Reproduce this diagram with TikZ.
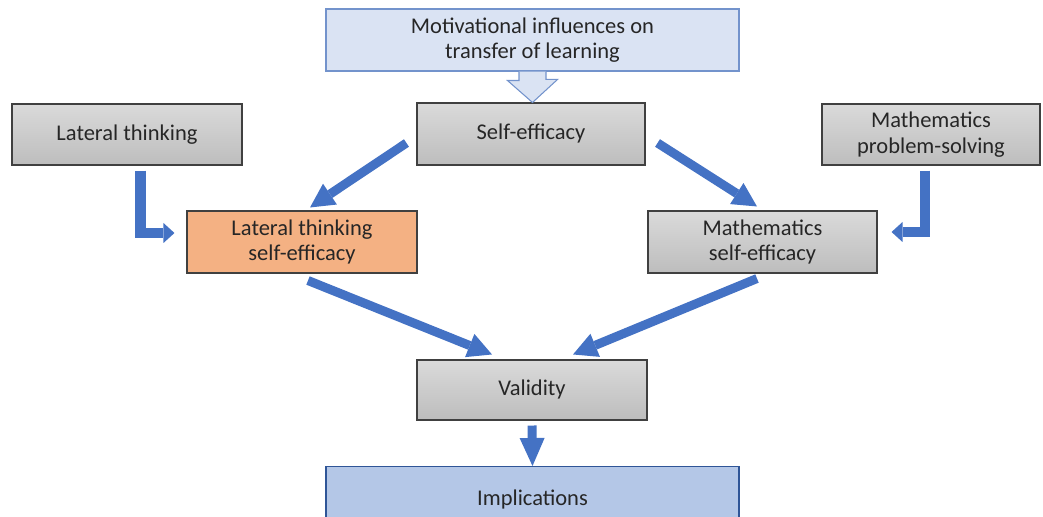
\documentclass[tikz,border=0pt]{standalone}
\usepackage{fontspec}
\setmainfont{Carlito}
\usetikzlibrary{arrows.meta,calc}

\definecolor{flowblue}{HTML}{4472C4}
\definecolor{graytop}{HTML}{DADADA}
\definecolor{graybot}{HTML}{BDBDBD}
\definecolor{boxline}{HTML}{404040}
\definecolor{paleblue}{HTML}{DAE3F3}
\definecolor{paleline}{HTML}{7393CC}
\definecolor{implblue}{HTML}{B4C7E7}
\definecolor{impline}{HTML}{2F5597}
\definecolor{orangebox}{HTML}{F4B183}

\begin{document}
\begin{tikzpicture}[
		box/.style={draw=boxline, line width=0.6pt, top color=graytop, bottom color=graybot,
			minimum width=4.6cm, minimum height=1.24cm, align=center, inner sep=2pt,
			font=\fontsize{12.8}{14.5}\selectfont, text=black!85},
		bluebox/.style={box, draw=paleline, fill=paleblue, top color=paleblue, bottom color=paleblue,
			minimum width=8.26cm},
		flow/.style={draw=flowblue, line width=0.18cm,
			-{Triangle[length=0.48cm,width=0.5cm,line width=0pt]}},
		bent/.style={draw=flowblue, line width=0.21cm, line join=miter,
			-{Triangle[length=0.22cm,width=0.4cm,line width=0pt]}}
	]
		\clip (0,0) rectangle (20.86,-10.34);

		% Top and bottom
		\node[bluebox] (mot) at (10.65,-0.80) {Motivational influences on\\transfer of learning};
		\node[bluebox, draw=impline, top color=implblue, bottom color=implblue, anchor=north,
			minimum height=1.3cm] (imp) at (10.65,-9.32) {Implications};

		% Boxes
		\node[box, minimum width=4.56cm] (se) at (10.62,-2.68) {Self-efficacy};
		\node[box, minimum height=1.22cm] (lt) at (2.54,-2.69) {Lateral thinking};
		\node[box, minimum width=4.36cm, minimum height=1.22cm] (mps) at (18.62,-2.69) {Mathematics\\problem-solving};
		\node[box, top color=orangebox, bottom color=orangebox] (ltse) at (6.04,-4.84) {Lateral thinking\\self-efficacy};
		\node[box, minimum width=4.58cm] (mse) at (15.25,-4.84) {Mathematics\\self-efficacy};
		\node[box, minimum height=1.2cm] (val) at (10.64,-7.80) {Validity};

		% Hollow arrow
		\coordinate (tip) at (mot.south |- se.north);
		\draw[paleline, fill=paleblue, line width=0.6pt] ([xshift=-0.27cm]mot.south) -- ++(0,-0.18) -- ++(-0.23,0)
			-- (tip) -- ++(0.5,0.46) -- ++(-0.23,0) -- ([xshift=0.27cm]mot.south);

		% Arrows
		\draw[flow] ([xshift=-0.2cm,yshift=-0.18cm]se.west) -- ([xshift=0.16cm,yshift=0.06cm]ltse.north);
		\draw[flow] ([xshift=0.24cm,yshift=-0.18cm]se.east) -- ([xshift=-0.11cm,yshift=0.08cm]mse.north);
		\draw[flow] ([xshift=0.12cm,yshift=-0.14cm]ltse.south) -- ([xshift=-0.8cm,yshift=0.1cm]val.north);
		\draw[flow] ([xshift=-0.11cm,yshift=-0.1cm]mse.south) -- ([xshift=0.82cm,yshift=0.1cm]val.north);
		\draw[flow, -{Triangle[length=0.56cm,width=0.5cm,line width=0pt]}]
			([yshift=-0.1cm]val.south) -- (imp.north);

		% Bent arrows
		\draw[bent] ([xshift=0.27cm,yshift=-0.1cm]lt.south) |- ([xshift=-0.24cm,yshift=0.18cm]ltse.west);
		\draw[bent] ([xshift=-0.12cm,yshift=-0.1cm]mps.south) |- ([xshift=0.28cm,yshift=0.2cm]mse.east);
	\end{tikzpicture}
\end{document}
